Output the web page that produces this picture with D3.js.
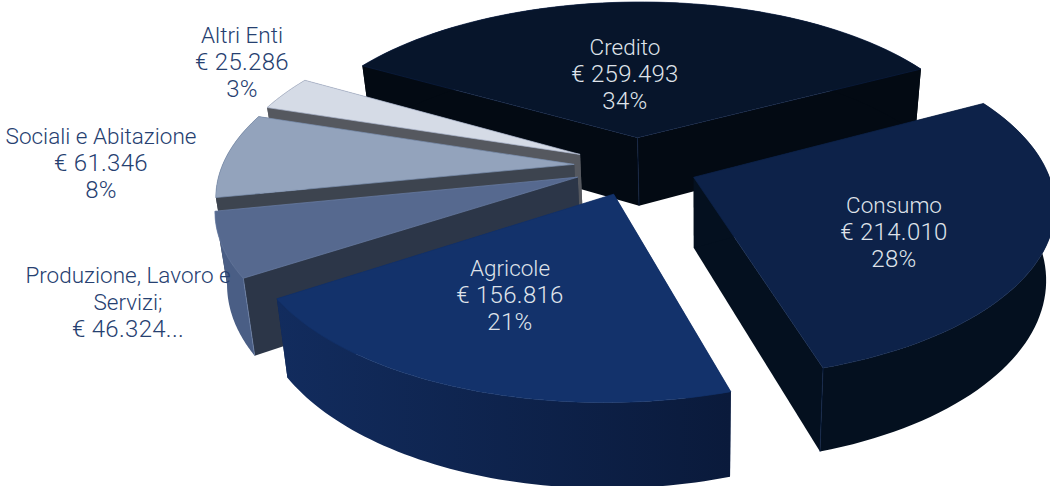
<!DOCTYPE html>
<html>
<head>
<meta charset="UTF-8">
<title>Ripartizione per tipologia</title>
<script src="https://d3js.org/d3.v7.min.js"></script>
<style>
    body { margin: 0; background: #fff; }
    svg { display: block; }
    text { font-family: Roboto, sans-serif; font-weight: 300; font-size: 22.5px; text-anchor: middle; }
    text.num { font-size: 24px; letter-spacing: 0.3px; }
</style>
</head>
<body>
<svg id="chart" width="1050" height="486"></svg>
<script>
// data
const categories = ["Credito", "Consumo", "Agricole", "Produzione, Lavoro e Servizi", "Sociali e Abitazione", "Altri Enti"];
const values = [259493, 214010, 156816, 46324, 61346, 25286];
const labelLines = [
    ["Credito", "€ 259.493", "34%"],
    ["Consumo", "€ 214.010", "28%"],
    ["Agricole", "€ 156.816", "21%"],
    ["Produzione, Lavoro e", "Servizi;", "€ 46.324..."],
    ["Sociali e Abitazione", "€ 61.346", "8%"],
    ["Altri Enti", "€ 25.286", "3%"]
];

// colours per slice: top, wall, outer rim
const topColors = ["#07152b", "#0d2249", "#13326b", "#56698f", "#93a3bc", "#d5dbe6"];
const wallColors = ["#030a13", "#04101f", "#0d2450", "#2c3648", "#3d444f", "#55585f"];
const rimColors = ["#030a13", "#04101f", "url(#agricoleRim)", "#4a5e85", "#3d444f", "#55585f"];
const edgeColors = ["#0b1e42", "#0d2249", "#13326b", "#6c80a6", "#7d90b0", "#aab5cc"];
const labelColors = ["#dfe3ea", "#dfe3ea", "#dfe3ea", "#264070", "#264070", "#264070"];

// painting order, back to front
const drawOrder = [0, 5, 4, 3, 1, 2];
// label centre x and first baseline
const labelAt = [[625, 55], [894, 213], [510, 276], [128, 283], [101, 144], [242, 43]];
const lineHeight = 27;

// perspective set-up of the pie
const cx = 636, cy = 166, vx = 660, leanX = 700;
const R = 352, explode = 62, depth = 70;
const tilt = 0.47, persp = 0.00045, bottomShrink = 0.975;
const firstAngle = -60.4;

function project(x, y, z) {
    const w = 1 - persp * y;
    let sx = vx + (x + cx - vx) / w;
    let sy = cy + tilt * y / w;
    if (z) {
        sx = leanX + (sx - leanX) * bottomShrink;
        sy += depth / w;
    }
    return [sx, sy];
}

const svg = d3.select("#chart");

const grad = svg.append("defs").append("linearGradient")
    .attr("id", "agricoleRim")
    .attr("gradientUnits", "userSpaceOnUse")
    .attr("x1", 275).attr("x2", 731).attr("y1", 0).attr("y2", 0);
grad.append("stop").attr("offset", 0).attr("stop-color", "#122c5e");
grad.append("stop").attr("offset", 1).attr("stop-color", "#0a1a3b");

const pie = d3.pie()
    .sort(null)
    .startAngle(firstAngle * Math.PI / 180)
    .endAngle((360 + firstAngle) * Math.PI / 180);
const slices = pie(values);

const line = d3.line();

drawOrder.forEach(i => {
    const s = slices[i];
    const mid = (s.startAngle + s.endAngle) / 2;
    const ox = explode * Math.sin(mid), oy = -explode * Math.cos(mid);

    const rimAngles = d3.range(0, 61).map(j => s.startAngle + (s.endAngle - s.startAngle) * j / 60);
    const rimPoint = (a, z) => project(ox + R * Math.sin(a), oy - R * Math.cos(a), z);

    const apexTop = project(ox, oy, 0), apexBot = project(ox, oy, 1);
    const rimTop = rimAngles.map(a => rimPoint(a, 0));
    const rimBot = rimAngles.map(a => rimPoint(a, 1));
    const g = svg.append("g").attr("class", "slice");

    // walls first, the one nearer the viewer last
    const wall = k => [apexTop, rimTop[k], rimBot[k], apexBot];
    [60, 0].forEach(k => {
        g.append("path")
            .attr("d", line(wall(k)) + "Z")
            .attr("fill", wallColors[i]);
    });

    g.append("path")
        .attr("d", line(rimTop.concat(rimBot.slice().reverse())) + "Z")
        .attr("fill", rimColors[i]);

    // the thin lines on the visible vertical corners
    const corner = i === 0 ? [apexTop, apexBot]
        : i === 1 ? [rimTop[60], rimBot[60]]
        : i === 3 ? [rimTop[0], rimBot[0]] : null;
    if (corner) {
        g.append("path")
            .attr("d", line(corner))
            .attr("fill", "none")
            .attr("stroke", edgeColors[i])
            .attr("stroke-width", 0.8);
    }

    g.append("path")
        .attr("d", line([apexTop].concat(rimTop)) + "Z")
        .attr("fill", topColors[i])
        .attr("stroke", edgeColors[i])
        .attr("stroke-width", 0.7);
});

// labels on top of everything
labelLines.forEach((lines, i) => {
    lines.forEach((t, j) => {
        svg.append("text")
            .attr("class", /^(€|\d)/.test(t) ? "num" : null)
            .attr("x", labelAt[i][0])
            .attr("y", labelAt[i][1] + j * lineHeight)
            .attr("fill", labelColors[i])
            .text(t);
    });
});
</script>
</body>
</html>
